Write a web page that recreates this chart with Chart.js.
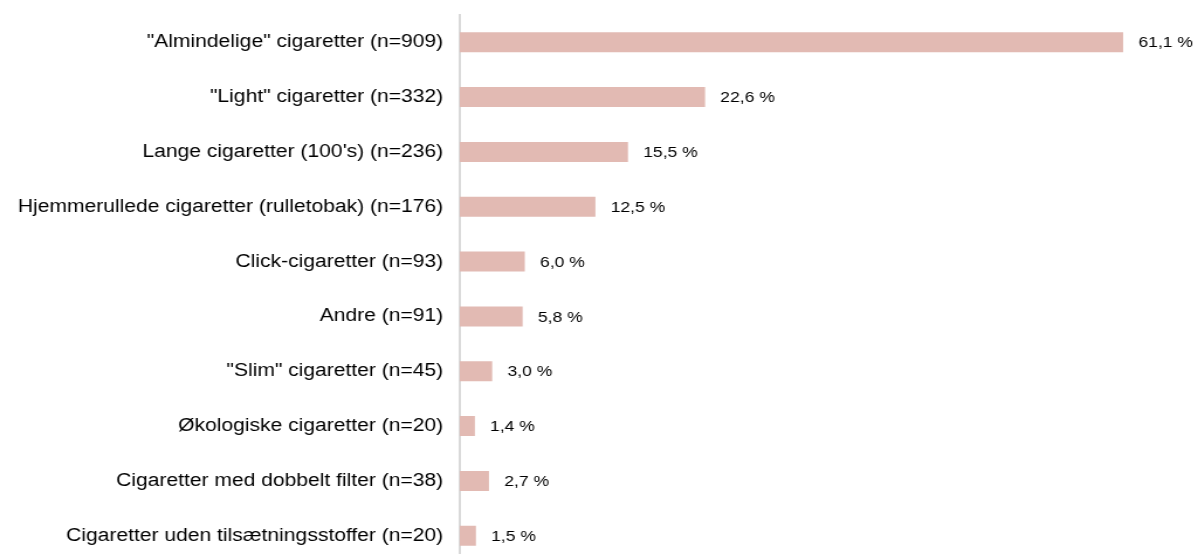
<!DOCTYPE html>
<html>
<head>
<meta charset="utf-8">
<script src="https://cdn.jsdelivr.net/npm/chart.js@4"></script>
<style>
  html, body { margin: 0; padding: 0; background: #fff; overflow: hidden; }
  /* the reference is stretched horizontally, so the canvas is too */
  #wrap { width: 1024px; height: 598px; margin-top: -10px; position: relative; transform: scaleX(1.17); transform-origin: 0 0; }
</style>
</head>
<body>
<div id="wrap"><canvas id="cigChart"></canvas></div>
<script>
const categories = [
    '"Almindelige" cigaretter (n=909)',
    '"Light" cigaretter (n=332)',
    "Lange cigaretter (100's) (n=236)",
    'Hjemmerullede cigaretter (rulletobak) (n=176)',
    'Click-cigaretter (n=93)',
    'Andre (n=91)',
    '"Slim" cigaretter (n=45)',
    'Økologiske cigaretter (n=20)',
    'Cigaretter med dobbelt filter (n=38)',
    'Cigaretter uden tilsætningsstoffer (n=20)'
];
const shares = [61.1, 22.6, 15.5, 12.5, 6.0, 5.8, 3.0, 1.4, 2.7, 1.5];

// value labels to the right of each bar, danish decimal comma
const valueLabels = {
    id: 'valueLabels',
    afterDatasetsDraw(chart) {
        const c = chart.ctx;
        const meta = chart.getDatasetMeta(0);
        c.save();
        c.font = '15px "Liberation Sans", Arial, sans-serif';
        c.fillStyle = '#000';
        c.textBaseline = 'middle';
        meta.data.forEach((bar, i) => {
            const txt = shares[i].toFixed(1).replace('.', ',') + ' %';
            c.fillText(txt, bar.x + 13, bar.y + 1);
        });
        c.restore();
    }
};

const ctx = document.getElementById('cigChart').getContext('2d');
const cigChart = new Chart(ctx, {
    type: 'bar',
    data: {
        labels: categories,
        datasets: [{
            data: shares,
            backgroundColor: '#e2bab3',
            barPercentage: 0.365,
            categoryPercentage: 1
        }]
    },
    options: {
        indexAxis: 'y',
        responsive: true,
        maintainAspectRatio: false,
        animation: false,
        layout: { padding: { top: 0, left: 1.2, right: 0, bottom: 0 } },
        plugins: {
            legend: { display: false },
            tooltip: { enabled: false }
        },
        scales: {
            x: {
                min: 0,
                max: 68,
                display: false
            },
            y: {
                grid: { display: false, drawTicks: false },
                border: { display: true, color: '#d9d9d9', width: 2 },
                ticks: {
                    color: '#000',
                    padding: 14,
                    font: { family: '"Liberation Sans", Arial, sans-serif', size: 18 }
                }
            }
        }
    },
    plugins: [valueLabels]
});
</script>
</body>
</html>
